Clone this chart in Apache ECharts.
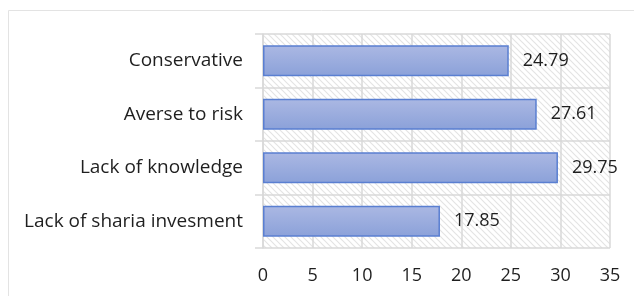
<!DOCTYPE html>
<html>
<head>
<meta charset="utf-8">
<script src="https://cdn.jsdelivr.net/npm/echarts@6/dist/echarts.min.js"></script>
<style>
  html, body { margin: 0; padding: 0; background: #fff; }
  #chart { width: 634px; height: 296px; }
</style>
</head>
<body>
<div id="chart"></div>
<script>
// data, top to bottom as shown
var categories = ['Conservative', 'Averse to risk', 'Lack of knowledge', 'Lack of sharia invesment'];
var values = [24.79, 27.61, 29.75, 17.85];

// diagonal hatch for plot background
function hatch() {
  var c = document.createElement('canvas');
  c.width = 6; c.height = 6;
  var ctx = c.getContext('2d');
  ctx.fillStyle = '#ffffff';
  ctx.fillRect(0, 0, 6, 6);
  ctx.strokeStyle = '#e4e4e4';
  ctx.lineWidth = 1.2;
  ctx.beginPath();
  ctx.moveTo(-1, -1); ctx.lineTo(7, 7);
  ctx.moveTo(-7, -1); ctx.lineTo(1, 7);
  ctx.moveTo(5, -1); ctx.lineTo(13, 7);
  ctx.stroke();
  return c;
}

var chart = echarts.init(document.getElementById('chart'));
chart.setOption({
  animation: false,
  textStyle: { fontFamily: 'Open Sans' },
  graphic: [{
    type: 'rect',
    shape: { x: 8.5, y: 10.5, width: 640, height: 300 },
    style: { fill: 'none', stroke: '#e3e3e3', lineWidth: 1 },
    silent: true
  }],
  grid: {
    left: 263, right: 24, top: 34, bottom: 48,
    show: true,
    backgroundColor: { image: hatch(), repeat: 'repeat' },
    borderWidth: 0
  },
  xAxis: {
    type: 'value',
    min: 0, max: 35, interval: 5,
    axisLine: { show: false },
    axisTick: { show: false },
    axisLabel: { color: '#1f1f1f', fontSize: 18, margin: 19 },
    splitLine: { show: true, lineStyle: { color: '#d9d9d9', width: 1.5 } }
  },
  yAxis: {
    type: 'category',
    inverse: true,
    data: categories,
    axisLine: { show: true, lineStyle: { color: '#d9d9d9', width: 1.5 } },
    axisTick: { show: true, length: 8, lineStyle: { color: '#d9d9d9', width: 1.5 } },
    axisLabel: { color: '#1f1f1f', fontSize: 19, margin: 20 },
    splitLine: { show: true, lineStyle: { color: '#d9d9d9', width: 1.5 } }
  },
  series: [{
    type: 'bar',
    data: values,
    barCategoryGap: '42%',
    itemStyle: {
      color: new echarts.graphic.LinearGradient(0, 0, 0, 1, [
        { offset: 0, color: '#abb8e3' },
        { offset: 1, color: '#8ba1d9' }
      ]),
      borderColor: '#5a7fd1',
      borderWidth: 1.5
    },
    label: {
      show: true,
      position: 'right',
      distance: 14,
      color: '#1f1f1f',
      fontSize: 18,
      formatter: function (p) { return p.value.toFixed(2); }
    }
  }]
});
</script>
</body>
</html>
